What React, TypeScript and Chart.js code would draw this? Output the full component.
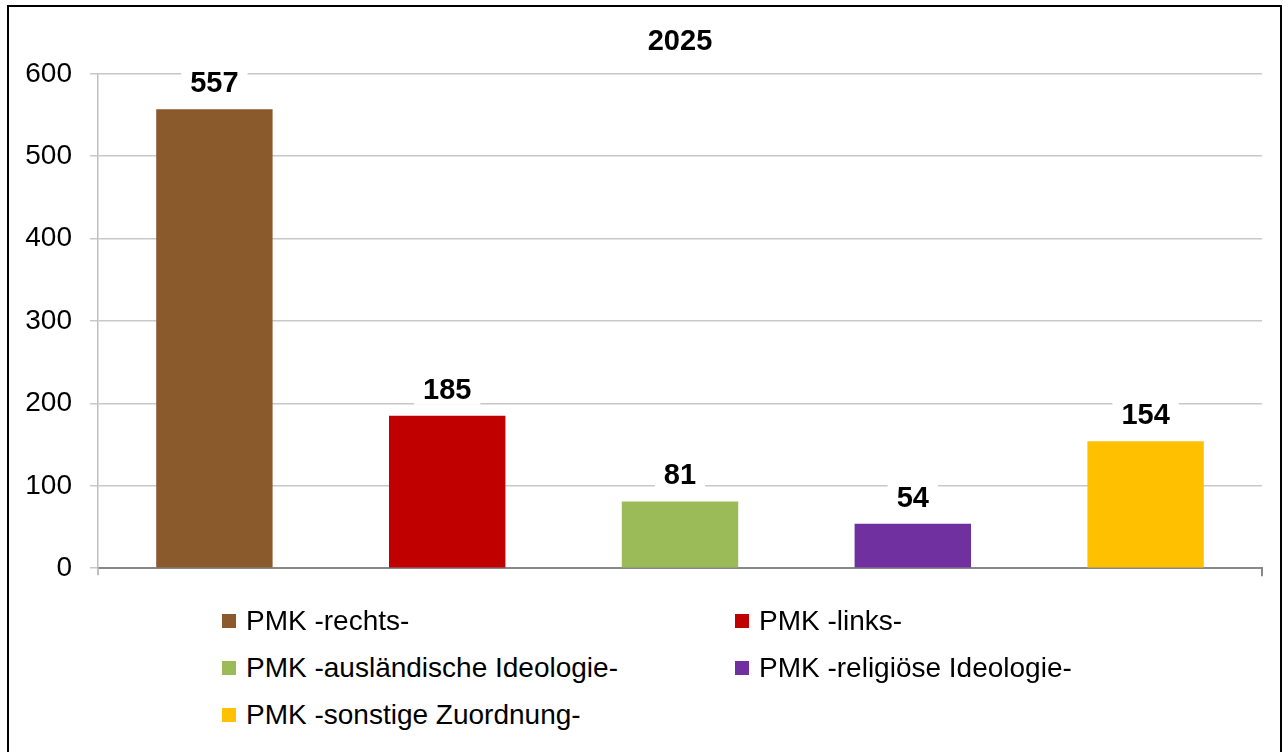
import React, { useEffect, useRef } from "react";
import { Chart, registerables } from "chart.js";

Chart.register(...registerables);

const title = "2025";
const categories = [
  "PMK -rechts-",
  "PMK -links-",
  "PMK -ausländische Ideologie-",
  "PMK -religiöse Ideologie-",
  "PMK -sonstige Zuordnung-",
];
const values = [557, 185, 81, 54, 154];
const colors = ["#8A5A2C", "#C00000", "#9BBB59", "#7030A0", "#FFC000"];
const yTicks = [0, 100, 200, 300, 400, 500, 600];

const FONT = "'Liberation Sans', Arial, Helvetica, sans-serif";

const valueLabels = {
  id: "valueLabels",
  afterDatasetsDraw(chart: any) {
    const ctx = chart.ctx;
    const meta = chart.getDatasetMeta(0);
    ctx.save();
    ctx.font = `bold 29px ${FONT}`;
    ctx.textAlign = "center";
    ctx.textBaseline = "middle";
    meta.data.forEach((el: any, i: number) => {
      const txt = String(chart.data.datasets[0].data[i]);
      const w = ctx.measureText(txt).width;
      const cx = el.x;
      const cy = el.y - 26;
      ctx.fillStyle = "#ffffff";
      ctx.fillRect(cx - w / 2 - 9, cy - 15, w + 18, 30);
      ctx.fillStyle = "#000000";
      ctx.fillText(txt, cx, cy + 1);
    });
    ctx.restore();
  },
};

const endTicks = {
  id: "endTicks",
  afterDraw(chart: any) {
    const { ctx, chartArea } = chart;
    ctx.save();
    ctx.strokeStyle = "#888888";
    ctx.lineWidth = 2;
    ctx.beginPath();
    ctx.moveTo(chartArea.right, chartArea.bottom);
    ctx.lineTo(chartArea.right, chartArea.bottom + 8);
    ctx.stroke();
    ctx.strokeStyle = "#bfbfbf";
    ctx.beginPath();
    ctx.moveTo(chartArea.left, chartArea.bottom);
    ctx.lineTo(chartArea.left, chartArea.bottom + 7);
    ctx.stroke();
    ctx.restore();
  },
};

export default function App() {
  const ref = useRef<HTMLCanvasElement>(null);

  useEffect(() => {
    if (!ref.current) return;
    const chart = new Chart(ref.current, {
      type: "bar",
      data: {
        labels: categories,
        datasets: [
          {
            data: values,
            backgroundColor: colors,
            borderWidth: 0,
            barPercentage: 0.5,
            categoryPercentage: 1.0,
          },
        ],
      },
      options: {
        responsive: false,
        animation: false,
        devicePixelRatio: 1,
        layout: { padding: { left: 0, right: 26, top: 0, bottom: 27 } },
        plugins: {
          legend: { display: false },
          tooltip: { enabled: false },
          title: {
            display: true,
            fullSize: false,
            text: title,
            color: "#000000",
            font: { family: FONT, size: 29, weight: "bold", lineHeight: 1.2 },
            padding: { top: 25, bottom: 14 },
          },
        },
        scales: {
          x: {
            ticks: { display: false },
            grid: { display: false },
            border: { display: true, color: "#888888", width: 2 },
            afterFit: (s: any) => {
              s.height = 0;
            },
          },
          y: {
            min: 0,
            max: 600,
            afterBuildTicks: (s: any) => {
              s.ticks = yTicks.map((v) => ({ value: v }));
            },
            ticks: {
              color: "#000000",
              padding: 18,
              font: { family: FONT, size: 28 },
            },
            grid: { color: "#c8c8c8", lineWidth: 1.5, tickLength: 8 },
            border: { display: true, color: "#bfbfbf", width: 1.5 },
            afterFit: (s: any) => {
              s.width = 98;
            },
          },
        },
      },
      plugins: [valueLabels, endTicks],
    });
    return () => chart.destroy();
  }, []);

  const legendPos = [
    { x: 222, y: 621 },
    { x: 735, y: 621 },
    { x: 222, y: 668 },
    { x: 735, y: 668 },
    { x: 222, y: 715 },
  ];

  return (
    <div
      style={{
        position: "fixed",
        left: 0,
        top: 0,
        width: 1288,
        height: 752,
        overflow: "hidden",
        background: "#ffffff",
      }}
    >
      <div
        style={{
          position: "absolute",
          left: 7,
          top: 5,
          width: 1271,
          height: 780,
          border: "2px solid #000000",
        }}
      />
      <canvas
        ref={ref}
        width={1288}
        height={603}
        style={{ position: "absolute", left: 0, top: 0, width: 1288, height: 603 }}
      />
      {categories.map((c, i) => (
        <div
          key={c}
          style={{
            position: "absolute",
            left: legendPos[i].x,
            top: legendPos[i].y - 20,
            height: 40,
            display: "flex",
            alignItems: "center",
            whiteSpace: "nowrap",
            fontFamily: FONT,
            fontSize: 28,
            color: "#000000",
          }}
        >
          <span
            style={{
              display: "inline-block",
              width: 14,
              height: 14,
              background: colors[i],
              marginRight: 10,
            }}
          />
          <span>{c}</span>
        </div>
      ))}
    </div>
  );
}
